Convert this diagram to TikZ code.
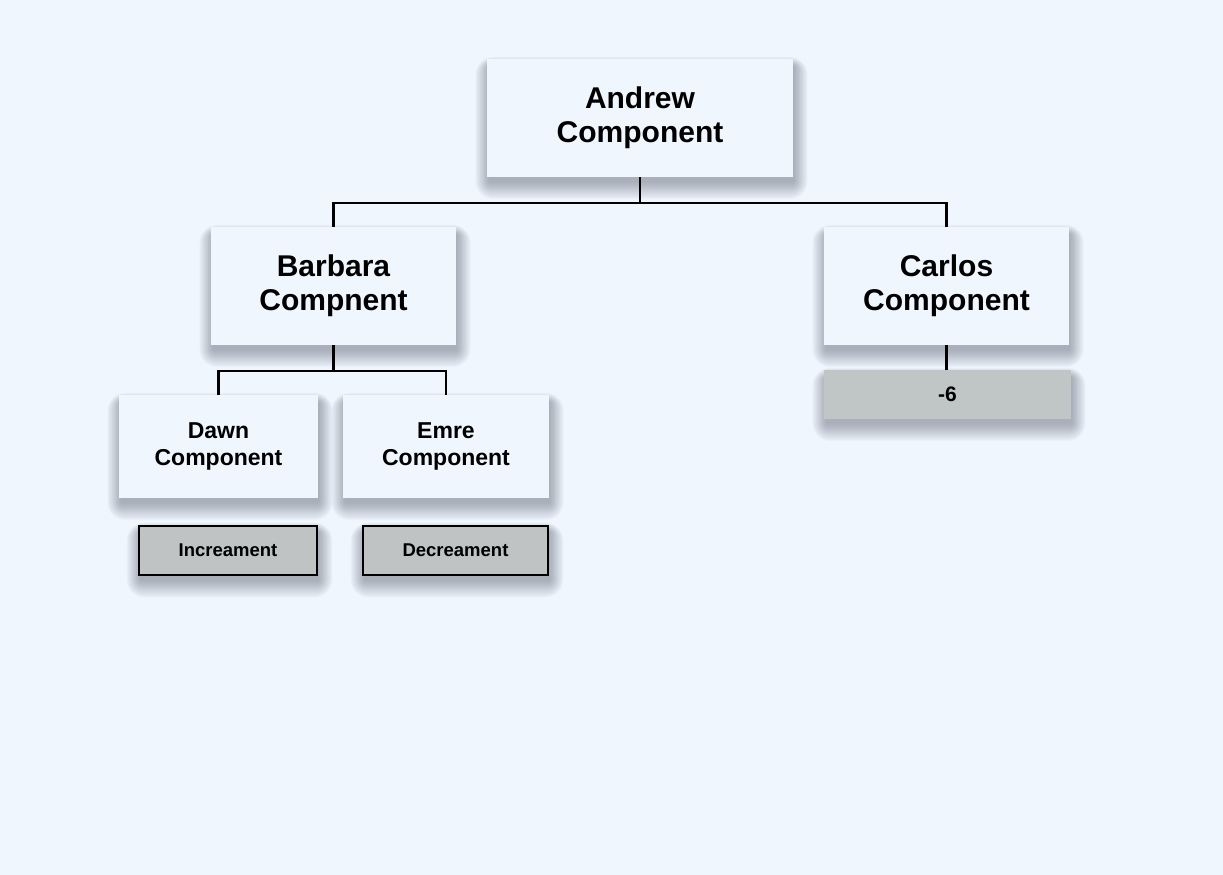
\documentclass[tikz,border=0pt]{standalone}
\usepackage{fontspec}
\setmainfont{Liberation Sans}
\usetikzlibrary{calc}
\pgfdeclarelayer{back}
\pgfdeclarelayer{background}
\pgfsetlayers{back,background,main}
\definecolor{bg}{HTML}{EFF6FD}
\definecolor{btn}{HTML}{BFC3C3}
\definecolor{res}{HTML}{C0C6C6}
\definecolor{shcol}{HTML}{3A4050}
\newcommand\shadowof[1]{%
  \foreach \i in {1,...,18}{%
    \fill[shcol, opacity=0.022, rounded corners={1pt*\i}]
      ([xshift={3pt-0.8pt*\i}, yshift={0.55pt*\i-8pt}]#1.north west) rectangle
      ([xshift={0.8pt*\i}, yshift={-4pt-1pt*\i}]#1.south east);
  }}
\tikzset{
  comp/.style={fill=bg, draw=none, align=center, inner sep=0pt},
  big/.style={comp, minimum width=306pt, minimum height=118pt, font=\fontsize{30}{34}\bfseries\selectfont},
  mid/.style={comp, minimum width=245pt, minimum height=118pt, font=\fontsize{30}{34}\bfseries\selectfont},
  small/.style={comp, minimum height=103pt, font=\fontsize{23}{27.5}\bfseries\selectfont},
  btnbox/.style={fill=btn, draw=black, line width=2pt, minimum height=49pt, inner sep=0pt, font=\fontsize{18.5}{20}\bfseries\selectfont},
  resbox/.style={fill=res, draw=none, minimum height=49pt, minimum width=247pt, inner sep=0pt, font=\fontsize{21}{22}\bfseries\selectfont},
  conn/.style={draw=black, line width=2.2pt}
}
\begin{document}
\begin{tikzpicture}[x=1pt,y=-1pt]
\begin{pgfonlayer}{back}
\fill[bg] (0,0) rectangle (1223,875);
\end{pgfonlayer}
\useasboundingbox (0,0) rectangle (1223,875);
\node[big] (andrew) at (640,118) {Andrew\\Component};
\node[mid] (barbara) at (333.5,286) {Barbara\\Compnent};
\node[mid] (carlos) at (946.5,286) {Carlos\\Component};
\node[small, minimum width=199pt] (dawn) at (218.5,446.5) {Dawn\\Component};
\node[small, minimum width=206pt] (emre) at (446,446.5) {Emre\\Component};
\node[btnbox, minimum width=178pt] (inc) at (228,550) {Increament};
\node[btnbox, minimum width=185pt] (dec) at (455.5,550) {Decreament};
\node[resbox] (val) at (947.5,394.5) {-6};
\begin{pgfonlayer}{background}
\shadowof{andrew}
\shadowof{barbara}
\shadowof{carlos}
\shadowof{dawn}
\shadowof{emre}
\shadowof{inc}
\shadowof{dec}
\shadowof{val}
\end{pgfonlayer}
\coordinate (j1) at (640,203);
\coordinate (j2) at (333.5,371);
\draw[conn] (andrew.south) -- (j1);
\draw[conn] (barbara.north) -- (barbara.north |- j1) -- (carlos.north |- j1) -- (carlos.north);
\draw[conn] (barbara.south) -- (j2);
\draw[conn] (dawn.north) -- (dawn.north |- j2) -- (emre.north |- j2) -- (emre.north);
\draw[conn] (carlos.south) -- (carlos.south |- val.north);
\end{tikzpicture}
\end{document}
